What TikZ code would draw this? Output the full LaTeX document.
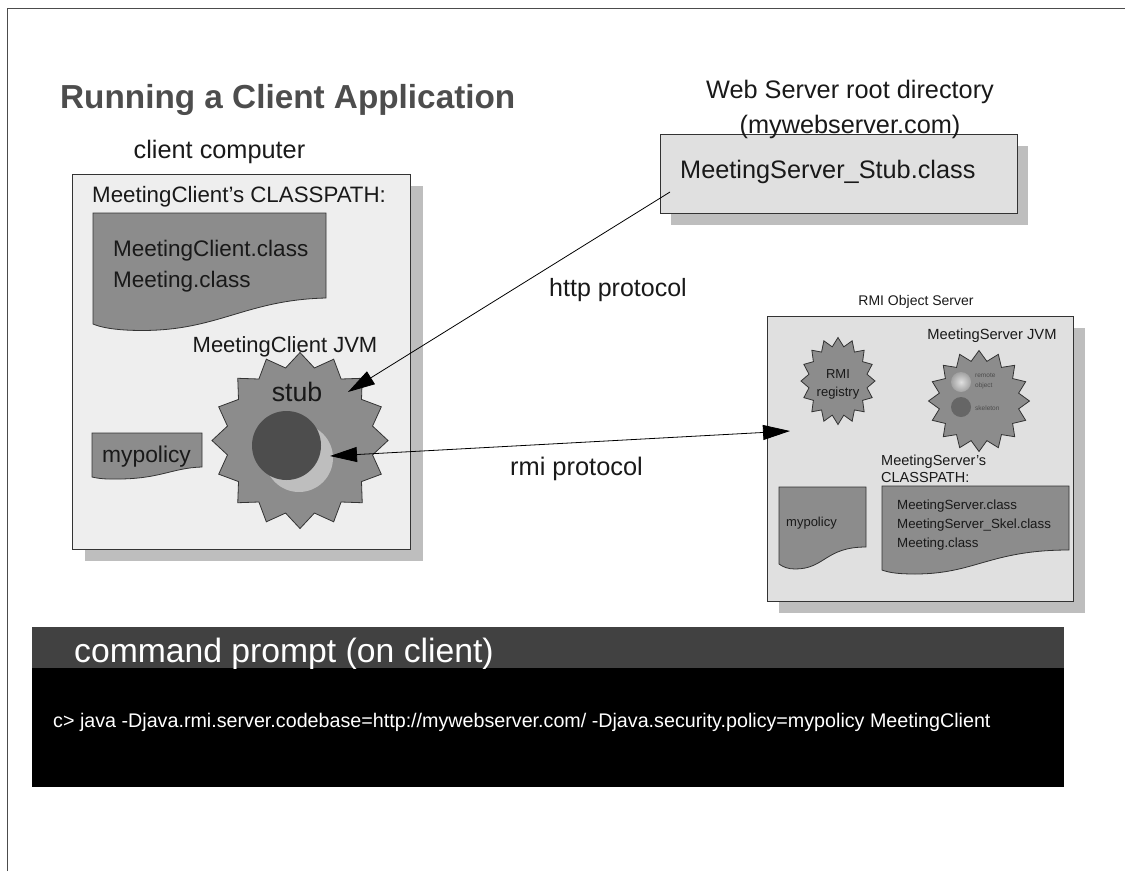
\documentclass[tikz,border=0pt]{standalone}
\usepackage{fontspec}
\setmainfont{Liberation Sans}
\usetikzlibrary{arrows.meta, shapes.geometric}

\definecolor{docgray}{HTML}{8C8C8C}
\definecolor{shadowgray}{HTML}{BEBEBE}
\definecolor{clientgray}{HTML}{EEEEEE}
\definecolor{servergray}{HTML}{E0E0E0}
\definecolor{titlegray}{HTML}{4D4D4D}

\tikzset{
  box/.style={draw=black!80, line width=0.9pt, rectangle, anchor=north west, inner sep=0pt},
  shadowbox/.style={fill=shadowgray, rectangle, anchor=north west, inner sep=0pt},
  doc/.style={draw=black!80, fill=docgray, line width=0.8pt},
  burst/.style={star, star points=16, draw=black!80, fill=docgray, line width=0.8pt, inner sep=0pt, transform shape},
  ltag/.style={anchor=west, inner sep=0pt, text=black!90},
  ctag/.style={anchor=center, inner sep=0pt, text=black!90, align=center},
}

\begin{document}
\begin{tikzpicture}[x=1pt, y=-1pt, >={Triangle[length=27pt, width=15pt]}]
\useasboundingbox (0,0) rectangle (1125,871);

% Frame
\draw[black!70, line width=0.9pt] (7,871) -- (7,8.5) -- (1125,8.5);

% Title
\node[ltag, text=titlegray, font=\bfseries\fontsize{33.3}{33}\selectfont] (title) at (60,100) {Running a Client Application};

% Client computer
\node[ctag, font=\fontsize{25.3}{25}\selectfont] (clientlabel) at (219.5,152) {client computer};
\node[shadowbox, minimum width=338pt, minimum height=375pt] (clientshadow) at (85,186) {};
\node[box, fill=clientgray, minimum width=338pt, minimum height=375pt] (client) at (72,173.5) {};
\node[ltag, font=\fontsize{22.3}{22}\selectfont] (clientcp) at (92,197) {MeetingClient's CLASSPATH:};
\draw[doc] (93,213) -- (326,213) -- (326,298) .. controls (240,300) and (215,335) .. (125,330) .. controls (110,329) and (100,327) .. (93,324) -- cycle;
\node[ltag, font=\fontsize{22.5}{22}\selectfont] (clientclass) at (113,251) {MeetingClient.class};
\node[ltag, font=\fontsize{22.5}{22}\selectfont] (meetingclass) at (113,282) {Meeting.class};
\draw[doc] (92,433) -- (202,433) -- (202,467) .. controls (170,468) and (160,480) .. (110,479) .. controls (102,479) and (96,478) .. (92,477) -- cycle;
\node[ltag, font=\fontsize{22.8}{22}\selectfont] (clientpolicy) at (102,457) {mypolicy};

% Client JVM
\node[burst, minimum size=176pt, star point ratio=1.19] (clientjvm) at (300,440.5) {};
\node[ctag, font=\fontsize{22}{22}\selectfont] (clientjvmlabel) at (285,347) {MeetingClient JVM};
\node[ctag, font=\fontsize{26.7}{26}\selectfont] (stub) at (297,392) {stub};
\node[circle, fill=shadowgray, minimum size=68pt, inner sep=0pt] (remoteref) at (299,458) {};
\node[circle, fill=titlegray, minimum size=69pt, inner sep=0pt] (stubcore) at (286.5,445.5) {};

% Web server
\node[shadowbox, minimum width=357pt, minimum height=79pt] (webshadow) at (671,146) {};
\node[box, fill=servergray, minimum width=357pt, minimum height=79pt] (web) at (659.5,134) {};
\node[ctag, font=\fontsize{25.3}{35}\selectfont] (weblabel) at (850,109) {Web Server root directory\\(mywebserver.com)};
\node[ltag, font=\fontsize{25.3}{25}\selectfont] (stubclass) at (680,172) {MeetingServer\_Stub.class};

% RMI server
\node[ctag, font=\fontsize{14}{14}\selectfont] (serverlabel) at (916,302) {RMI Object Server};
\node[shadowbox, minimum width=306pt, minimum height=285pt] (servershadow) at (779,328) {};
\node[box, fill=servergray, minimum width=306pt, minimum height=285pt] (server) at (767,316) {};
\node[burst, minimum size=87pt, star point ratio=1.25, xscale=0.85] (registry) at (838,381) {};
\node[ctag, font=\fontsize{13}{18}\selectfont] (registrylabel) at (838,384) {RMI\\registry};
\node[ctag, font=\fontsize{14.7}{14}\selectfont] (serverjvmlabel) at (992,336) {MeetingServer JVM};
\node[burst, minimum size=101pt, star point ratio=1.25] (serverjvm) at (979,401) {};
\node[circle, inner color=servergray, outer color=shadowgray!85!black, minimum size=20pt, inner sep=0pt] (remoteobj) at (961,382) {};
\node[circle, fill=black!60, minimum size=20pt, inner sep=0pt] (skeleton) at (961,407) {};
\node[ltag, align=left, text=black!70, font=\fontsize{6.5}{9.5}\selectfont] (remotelabel) at (975,381) {remote\\object};
\node[ltag, text=black!70, font=\fontsize{6.5}{6}\selectfont] (skeletonlabel) at (975,408) {skeleton};
\node[ltag, align=left, font=\fontsize{14.5}{17}\selectfont] (servercp) at (881,469) {MeetingServer's\\CLASSPATH:};
\draw[doc] (779,487) -- (866,487) -- (866,547) .. controls (825,547) and (825,569) .. (795,569) .. controls (788,569) and (783,567) .. (779,564) -- cycle;
\node[ltag, font=\fontsize{13}{13}\selectfont] (serverpolicy) at (786,523) {mypolicy};
\draw[doc] (882,486) -- (1069,486) -- (1069,550) .. controls (990,550) and (975,574) .. (915,574) .. controls (900,574) and (890,573) .. (882,570) -- cycle;
\node[ltag, font=\fontsize{13.3}{13}\selectfont] (serverclass) at (897,506) {MeetingServer.class};
\node[ltag, font=\fontsize{13.3}{13}\selectfont] (skelclass) at (897,525) {MeetingServer\_Skel.class};
\node[ltag, font=\fontsize{13.3}{13}\selectfont] (meetingclass2) at (897,544) {Meeting.class};

% Command prompt
\node[rectangle, fill=black, anchor=north west, minimum width=1032pt, minimum height=160pt, inner sep=0pt] (prompt) at (32,627) {};
\node[rectangle, fill=titlegray!85!black, anchor=north west, minimum width=1032pt, minimum height=41pt, inner sep=0pt] (prompthead) at (32,627) {};
\node[ltag, text=white, font=\fontsize{33.7}{33}\selectfont] (prompttitle) at (74,654) {command prompt (on client)};
\node[ltag, text=white, font=\fontsize{19.7}{19}\selectfont] (command) at (53,722) {c> java -Djava.rmi.server.codebase=http://mywebserver.com/ -Djava.security.policy=mypolicy MeetingClient};

% Connectors
\coordinate (webend) at (670,192);
\coordinate (stubtip) at (348,392);
\coordinate (clienttip) at (330,456);
\coordinate (servertip) at (790,431);
\draw[->, line width=0.8pt] (webend) -- (stubtip);
\draw[<->, line width=0.8pt] (clienttip) -- (servertip);
\node[ltag, font=\fontsize{25}{25}\selectfont] (httplabel) at (549,290) {http protocol};
\node[ltag, font=\fontsize{25.4}{25}\selectfont] (rmilabel) at (510,469) {rmi protocol};

\end{tikzpicture}
\end{document}
